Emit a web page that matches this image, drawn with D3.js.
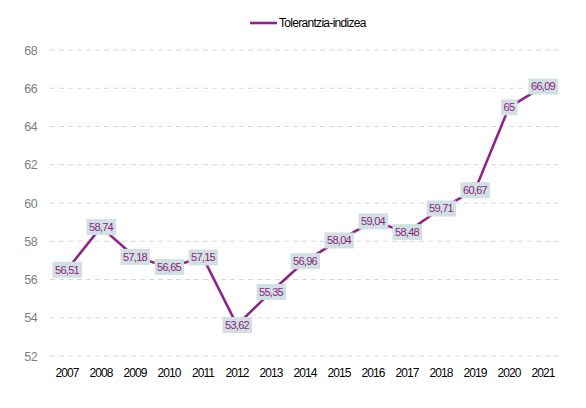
<!DOCTYPE html>
<html lang="eu">
<head>
<meta charset="UTF-8">
<script src="https://cdn.jsdelivr.net/npm/d3@7"></script>
<style>
	body { margin: 0; background: #fff; font-family: "Liberation Sans", Arial, sans-serif; }
	.grid line { stroke: #d9d9d9; stroke-dasharray: 5 4; }
	.label-box { fill: #d1e0e2; }
	.label-text { fill: #8b1f80; font-size: 11px; letter-spacing: -0.7px; }
</style>
</head>
<body>
<svg id="chart" width="586" height="408"></svg>
<script>
	// data
	const years = ['2007', '2008', '2009', '2010', '2011', '2012', '2013', '2014', '2015', '2016', '2017', '2018', '2019', '2020', '2021'];
	const values = [56.51, 58.74, 57.18, 56.65, 57.15, 53.62, 55.35, 56.96, 58.04, 59.04, 58.48, 59.71, 60.67, 65, 66.09];
	const yTicks = [52, 54, 56, 58, 60, 62, 64, 66, 68];
	const seriesName = 'Tolerantzia-indizea';

	const width = 586, height = 408;
	const margin = { top: 50, right: 26, bottom: 52, left: 50 };
	const lineColor = '#8e2487';

	const svg = d3.select('#chart');

	const x = d3.scaleBand()
		.domain(years)
		.range([margin.left, width - margin.right]);
	const y = d3.scaleLinear()
		.domain([52, 68])
		.range([height - margin.bottom, margin.top]);

	// horizontal dashed grid
	svg.append('g')
		.attr('class', 'grid')
		.selectAll('line')
		.data(yTicks)
		.join('line')
		.attr('x1', margin.left)
		.attr('x2', width - margin.right)
		.attr('y1', d => y(d))
		.attr('y2', d => y(d));

	// y axis labels
	const yAxis = d3.axisLeft(y).tickValues(yTicks).tickSize(0).tickPadding(13);
	svg.append('g')
		.attr('transform', `translate(${margin.left},0)`)
		.call(yAxis)
		.call(g => g.select('.domain').remove())
		.call(g => g.selectAll('text')
			.attr('fill', '#808080')
			.style('font-size', '12.5px')
			.style('letter-spacing', '-0.6px')
			.style('font-family', '"Liberation Sans", Arial, sans-serif'));

	// x axis labels
	const xAxis = d3.axisBottom(x).tickSize(0).tickPadding(12);
	svg.append('g')
		.attr('transform', `translate(0,${height - margin.bottom})`)
		.call(xAxis)
		.call(g => g.select('.domain').remove())
		.call(g => g.selectAll('text')
			.attr('fill', '#000')
			.style('font-size', '12px')
			.style('letter-spacing', '-0.9px')
			.style('font-family', '"Liberation Sans", Arial, sans-serif'));

	// line
	const line = d3.line()
		.x((d, i) => x(years[i]) + x.bandwidth() / 2)
		.y(d => y(d));
	svg.append('path')
		.datum(values)
		.attr('fill', 'none')
		.attr('stroke', lineColor)
		.attr('stroke-width', 2.6)
		.attr('d', line);

	// data labels
	const fmt = v => String(v).replace('.', ',');
	const labels = svg.append('g')
		.selectAll('g')
		.data(values)
		.join('g')
		.attr('transform', (d, i) => `translate(${x(years[i]) + x.bandwidth() / 2},${y(d)})`);
	labels.append('text')
		.attr('class', 'label-text')
		.attr('text-anchor', 'middle')
		.attr('dy', '0.35em')
		.text(fmt);
	labels.each(function () {
		const t = d3.select(this).select('text');
		const b = t.node().getBBox();
		d3.select(this).insert('rect', 'text')
			.attr('class', 'label-box')
			.attr('x', b.x - 2.5)
			.attr('y', -8)
			.attr('width', b.width + 5)
			.attr('height', 16);
	});

	// legend
	const legend = svg.append('g').attr('transform', 'translate(250,23)');
	legend.append('line')
		.attr('x1', 0).attr('x2', 27)
		.attr('stroke', lineColor)
		.attr('stroke-width', 2.6);
	legend.append('text')
		.attr('x', 29)
		.attr('dy', '0.35em')
		.attr('fill', '#000')
		.style('font-size', '12px')
		.style('letter-spacing', '-0.7px')
		.text(seriesName);
</script>
</body>
</html>
